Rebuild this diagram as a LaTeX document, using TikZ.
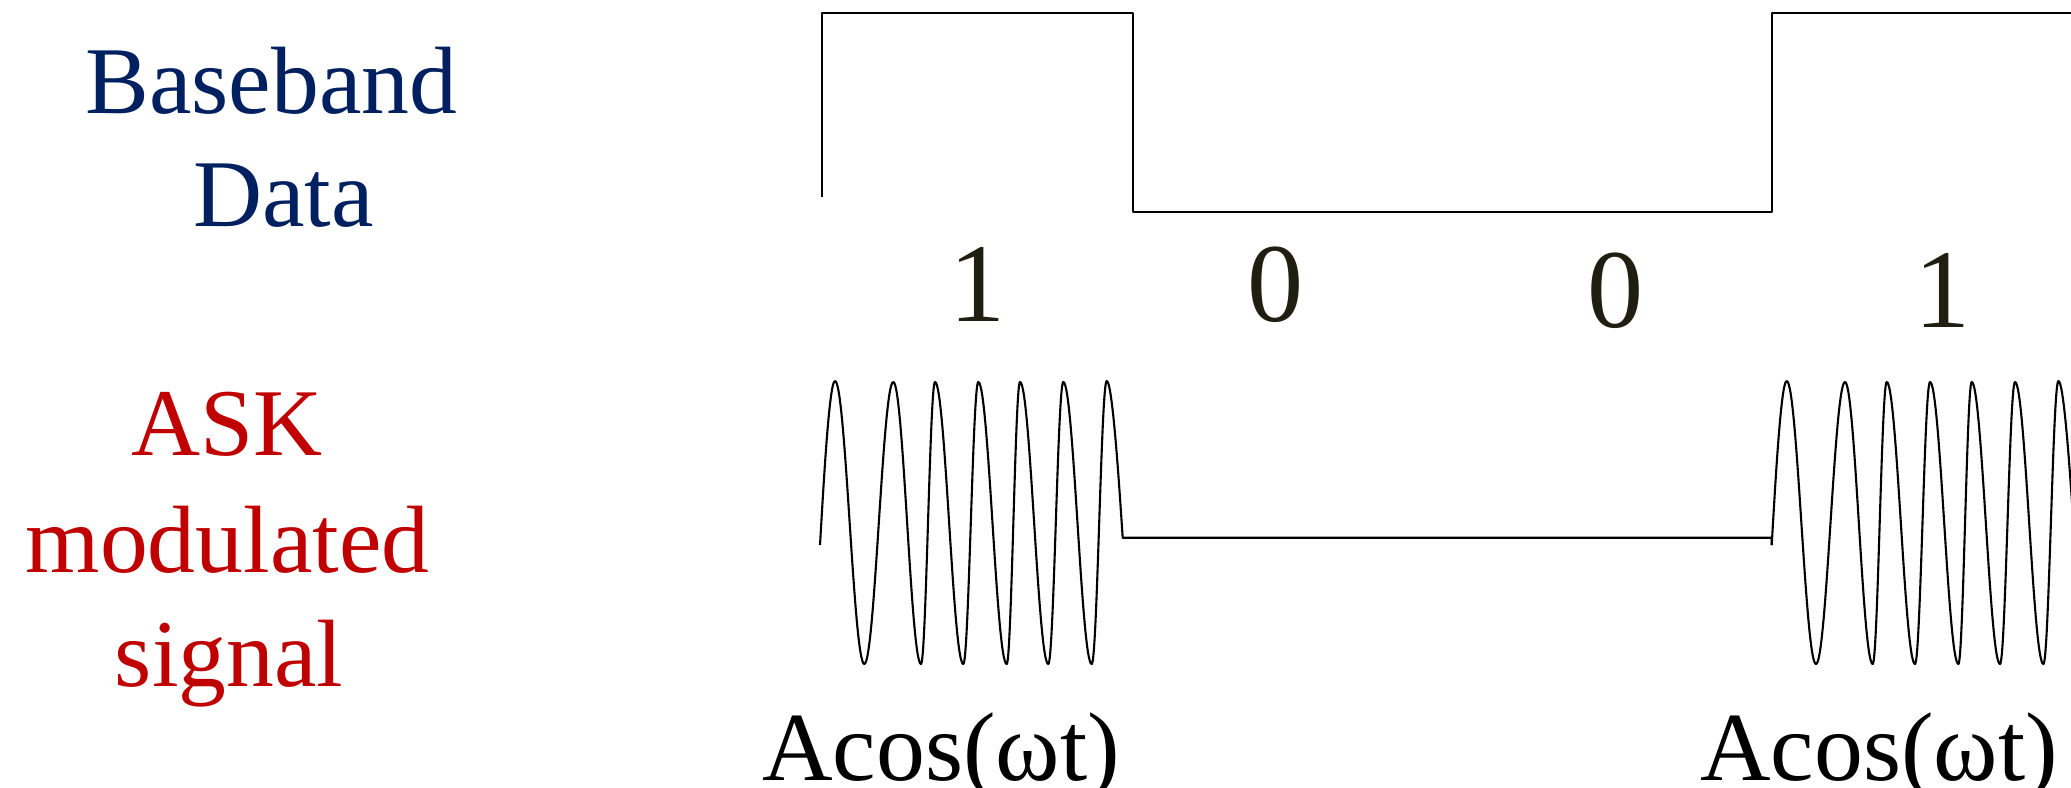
\documentclass[tikz,border=0pt]{standalone}
\usepackage{fontspec}
\setmainfont{Liberation Serif}
\definecolor{navyblue}{RGB}{0,32,96}
\definecolor{askred}{RGB}{192,0,0}
\definecolor{digitcol}{RGB}{32,30,16}
\newcommand\askburstpath{(820,545) .. controls +(3,-50) and +(-6,0) .. (835,381)
 .. controls +(10.7,0) and +(-10.7,0) .. (864.3,664)
 .. controls +(10.6,0) and +(-10.6,0) .. (893.3,382)
 .. controls +(10.1,0) and +(-10.1,0) .. (921,664)
 .. controls +(5.1,0) and +(-5.1,0) .. (935,382)
 .. controls +(10.3,0) and +(-10.3,0) .. (963.3,664)
 .. controls +(5.5,0) and +(-5.5,0) .. (978.3,382)
 .. controls +(10.3,0) and +(-10.3,0) .. (1006.7,664)
 .. controls +(4.8,0) and +(-4.8,0) .. (1020,382)
 .. controls +(10.3,0) and +(-10.3,0) .. (1048.3,664)
 .. controls +(5.5,0) and +(-5.5,0) .. (1063.3,382)
 .. controls +(10.3,0) and +(-10.3,0) .. (1091.7,664)
 .. controls +(5.5,0) and +(-5.5,0) .. (1106.7,381)
 .. controls +(6,0) and +(-3,-44) .. (1122.7,537.7)}
\begin{document}
\begin{tikzpicture}[x=0.01cm,y=-0.01cm,
  lbl/.style={inner sep=0,anchor=base,font=\fontsize{27.2}{30}\selectfont},
  bit/.style={inner sep=0,anchor=base,text=digitcol,font=\fontsize{31.9}{36}\selectfont},
  eqn/.style={inner sep=0,anchor=base,font=\fontsize{27.8}{32}\selectfont},
  wave/.style={line width=0.6pt,line join=round,line cap=butt}]
\useasboundingbox (0,0) rectangle (2071,787);
\clip (0,0) rectangle (2071,787);
% labels
\node[lbl,text=navyblue] (bb1) at (271.3,113.3) {Baseband};
\node[lbl,text=navyblue] (bb2) at (283.3,226.7) {Data};
\node[lbl,text=askred] (ask1) at (227.2,455) {ASK};
\node[lbl,text=askred] (ask2) at (227.5,572.7) {modulated};
\node[lbl,text=askred] (ask3) at (229.2,686.7) {signal};
% baseband square wave
\draw[wave] (821.7,197.3) -- (821.7,13.3) -- (1133.3,13.3) -- (1133.3,211.7)
  -- (1771.7,211.7) -- (1771.7,13.3) -- (2080,13.3);
% bits
\node[bit] (b1) at (977.4,321) {1};
\node[bit] (b2) at (1275.9,321) {0};
\node[bit] (b3) at (1615.9,327) {0};
\node[bit] (b4) at (1942.5,327) {1};
% ASK signal
\draw[wave] \askburstpath -- (1771.7,537.7) -- (1771.7,545);
\begin{scope}[shift={(951.7,0)}]
\draw[wave] \askburstpath;
\end{scope}
% carrier labels
\node[eqn] (eq1) at (941,780.7) {Acos(ωt)};
\node[eqn] (eq2) at (1879,780.7) {Acos(ωt)};
\end{tikzpicture}
\end{document}
